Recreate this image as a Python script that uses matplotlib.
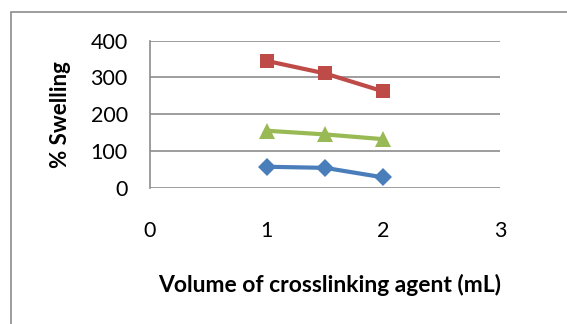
import matplotlib
matplotlib.use("Agg")
import matplotlib.pyplot as plt
from matplotlib.patches import Rectangle

plt.rcParams['font.family'] = ['Lato', 'DejaVu Sans']

# volume of crosslinking agent (mL) and % swelling for the three series
volume = [1, 1.5, 2]
swelling_blue = [57, 54, 28]
swelling_red = [345, 311, 262]
swelling_green = [155, 145, 132]

x_ticks = [0, 1, 2, 3]
y_ticks = [0, 100, 200, 300, 400]

fig = plt.figure(figsize=(5.67, 3.24), dpi=100)
fig.patch.set_facecolor('white')

# outer chart border
fig.patches.append(Rectangle((11/567, -0.1), 1.2, 1 - 12/324 + 0.1,
                             transform=fig.transFigure, fill=False,
                             edgecolor='#8c8c8c', linewidth=1.2))

ax = fig.add_axes([150/567, 1 - 187.7/324, 350/567, 147/324])

ax.plot(volume, swelling_blue, color='#4A7EBB', lw=3, marker='D',
        markersize=9, markeredgewidth=0)
ax.plot(volume, swelling_red, color='#BE4B48', lw=3, marker='s',
        markersize=10, markeredgewidth=0)
ax.plot(volume, swelling_green, color='#98B954', lw=3, marker='^',
        markersize=11, markeredgewidth=0)

ax.set_xlim(0, 3)
ax.set_ylim(0, 400)
ax.set_xticks(x_ticks)
ax.set_yticks(y_ticks)
ax.grid(axis='y', color='#8c8c8c', lw=1.2)
ax.set_axisbelow(True)

for side in ['top', 'right', 'bottom']:
    ax.spines[side].set_visible(False)
ax.spines['left'].set_color('#8c8c8c')
ax.spines['left'].set_linewidth(1.2)

ax.tick_params(axis='x', length=0, pad=24, labelsize=15.5)
ax.tick_params(axis='y', length=0, pad=16, labelsize=15.5)

ax.set_xlabel('Volume of crosslinking agent (mL)', fontsize=16.5,
              fontweight='bold', labelpad=24, x=0.514)
ax.set_ylabel('% Swelling', fontsize=16, fontweight='bold', labelpad=14)

fig.savefig('out.png', dpi=100)
